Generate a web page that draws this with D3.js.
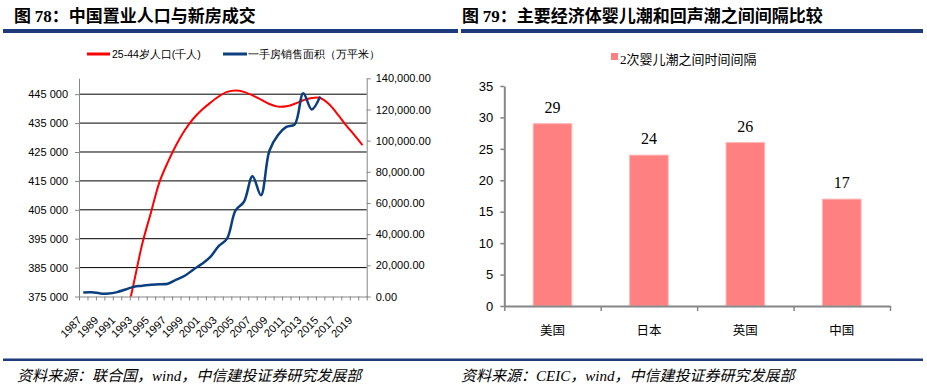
<!DOCTYPE html>
<html>
<head>
<meta charset="utf-8">
<script src="https://cdn.jsdelivr.net/npm/d3@7"></script>
<style>
  body { margin: 0; background: #fff; }
  svg { display: block; }
  text { font-family: "Liberation Sans", Arial, sans-serif; }
</style>
</head>
<body>
<svg id="chart" width="927" height="386"></svg>
<script>
// ---- data: left chart (图 78)
var years = d3.range(1987, 2021);
var labelYears = d3.range(1987, 2020, 2);
// 25-44岁人口(千人), from 1992 (earlier values fall below the axis)
var popYears = d3.range(1992, 2021);
var popValues = [366500, 380000, 393500, 404000, 414500, 421500, 427500, 432500, 436500, 439500,
                 442000, 444200, 445800, 446300, 445800, 444600, 443100, 441600, 440700, 440800,
                 441700, 442900, 443700, 443700, 441700, 438300, 434500, 431000, 427400];
// 一手房销售面积（万平米）
var salesYears = d3.range(1987, 2016);
var salesValues = [2500, 2700, 2000, 1900, 2800, 4500, 6300, 6900, 7600, 7800,
                   8200, 10800, 13300, 17200, 20800, 25200, 32300, 37100, 55300, 60800,
                   77200, 65000, 93500, 103500, 108800, 110500, 130400, 120000, 128300];
var leftTicks = [375000, 385000, 395000, 405000, 415000, 425000, 435000, 445000];
var rightTicks = [0, 20000, 40000, 60000, 80000, 100000, 120000, 140000];

// ---- data: right chart (图 79)
var countries = ["美国", "日本", "英国", "中国"];
var gaps = [29, 24, 26, 17];
var barTicks = [0, 5, 10, 15, 20, 25, 30, 35];

var svg = d3.select("#chart");
var navy = "#1f3a7a";
var axisGray = "#868686";

// title rules and footer rule
svg.append("rect").attr("x", 3).attr("y", 29).attr("width", 455).attr("height", 4).attr("fill", navy);
svg.append("rect").attr("x", 461).attr("y", 29).attr("width", 462).attr("height", 4).attr("fill", navy);
svg.append("rect").attr("x", 3).attr("y", 358.5).attr("width", 920).attr("height", 2.5).attr("fill", navy);

function title(x, num, rest) {
  var t = svg.append("text").attr("x", x).attr("y", 22)
      .style("font-size", "17px").style("font-weight", "bold")
      .style("font-family", "'Noto Sans CJK SC', sans-serif");
  t.append("tspan").text("图 ");
  t.append("tspan").style("font-family", "'Liberation Serif', serif").text(num);
  t.append("tspan").text("：" + rest);
}
title(14, "78", "中国置业人口与新房成交");
title(462, "79", "主要经济体婴儿潮和回声潮之间间隔比较");

function source(x, parts) {
  var t = svg.append("text").attr("x", x).attr("y", 381)
      .style("font-size", "15px").style("font-style", "italic")
      .style("font-family", "'Noto Sans CJK SC', sans-serif");
  parts.forEach(function (p) {
    var s = t.append("tspan").text(p.t);
    if (p.latin) s.style("font-family", "'Liberation Serif', serif");
  });
}
source(17, [{t: "资料来源："}, {t: "联合国，"}, {t: "wind", latin: true}, {t: "，中信建投证券研究发展部"}]);
source(461, [{t: "资料来源："}, {t: "CEIC", latin: true}, {t: "，"}, {t: "wind", latin: true}, {t: "，中信建投证券研究发展部"}]);

// =============== left chart ===============
var L = {left: 79, right: 366.7, top: 78.3, bottom: 296.5};
var x = d3.scaleBand().domain(years).range([L.left, L.right]);
var xEdge = d3.scaleLinear().domain([0, years.length]).range([L.left, L.right]);
var yL = d3.scaleLinear().domain([375000, 450500]).range([L.bottom, L.top]);
var yR = d3.scaleLinear().domain([0, 140000]).range([L.bottom, L.top]);
var cx = function (yr) { return x(yr) + x.bandwidth() / 2; };

var g = svg.append("g");

// gridlines
g.append("g").selectAll("line")
  .data(leftTicks.slice(1))
  .enter().append("line")
  .attr("x1", L.left).attr("x2", L.right)
  .attr("y1", function (d) { return yL(d); })
  .attr("y2", function (d) { return yL(d); })
  .attr("stroke", "#000").attr("stroke-width", 1);

var fmtSpace = function (d) { return d3.format(",")(d).replace(",", " "); };

var axL = g.append("g").attr("transform", "translate(" + L.left + ",0)")
  .call(d3.axisLeft(yL).tickValues(leftTicks).tickSize(4).tickSizeOuter(0).tickPadding(7).tickFormat(fmtSpace));
var axR = g.append("g").attr("transform", "translate(" + L.right + ",0)")
  .call(d3.axisRight(yR).tickValues(rightTicks).tickSize(4).tickSizeOuter(0).tickPadding(5).tickFormat(d3.format(",.2f")));
var axX = g.append("g").attr("transform", "translate(0," + L.bottom + ")")
  .call(d3.axisBottom(xEdge).tickValues(d3.range(0, years.length + 1)).tickSize(4).tickSizeOuter(0).tickFormat(""));

[axL, axR, axX].forEach(function (a) {
  a.select(".domain").attr("stroke", axisGray);
  a.selectAll(".tick line").attr("stroke", axisGray);
  a.selectAll("text").style("font-size", "11px").attr("fill", "#000")
    .style("font-family", "'Liberation Sans', Arial, sans-serif");
});

// x labels, rotated
g.append("g").selectAll("text")
  .data(labelYears)
  .enter().append("text")
  .attr("transform", function (d) { return "translate(" + (cx(d) - 1) + ",321) rotate(-45)"; })
  .attr("text-anchor", "end")
  .style("font-size", "11px")
  .text(function (d) { return d; });

// clip
svg.append("clipPath").attr("id", "plotClip")
  .append("rect").attr("x", L.left).attr("y", L.top - 5)
  .attr("width", L.right - L.left).attr("height", L.bottom - L.top + 5);

var popLine = d3.line()
  .x(function (d, i) { return cx(popYears[i]); })
  .y(function (d) { return yL(d); })
  .curve(d3.curveCatmullRom);
var salesLine = d3.line()
  .x(function (d, i) { return cx(salesYears[i]); })
  .y(function (d) { return yR(d); })
  .curve(d3.curveCatmullRom);

g.append("path").attr("clip-path", "url(#plotClip)")
  .attr("d", popLine(popValues))
  .attr("fill", "none").attr("stroke", "#ff0000").attr("stroke-width", 2);
g.append("path")
  .attr("d", salesLine(salesValues))
  .attr("fill", "none").attr("stroke", "#0b3f7f").attr("stroke-width", 2.5);

// legend
var leg = g.append("g").style("font-size", "10.5px")
  .style("font-family", "'Noto Sans CJK SC', sans-serif");
leg.append("line").attr("x1", 87).attr("x2", 110).attr("y1", 54).attr("y2", 54)
  .attr("stroke", "#ff0000").attr("stroke-width", 3);
leg.append("text").attr("x", 112).attr("y", 58).text("25-44岁人口(千人)");
leg.append("line").attr("x1", 223).attr("x2", 247).attr("y1", 54).attr("y2", 54)
  .attr("stroke", "#0b3f7f").attr("stroke-width", 3);
leg.append("text").attr("x", 248).attr("y", 58).text("一手房销售面积（万平米）");

// =============== right chart ===============
var R = {left: 504.3, right: 890, top: 86, bottom: 306};
var xb = d3.scaleBand().domain(countries).range([R.left, R.right]).paddingInner(0.6).paddingOuter(0.3);
var xbEdge = d3.scaleLinear().domain([0, countries.length]).range([R.left, R.right]);
var yb = d3.scaleLinear().domain([0, 35]).range([R.bottom, R.top]);

var h = svg.append("g");

h.selectAll("rect.bar")
  .data(gaps)
  .enter().append("rect")
  .attr("class", "bar")
  .attr("x", function (d, i) { return xb(countries[i]); })
  .attr("width", xb.bandwidth())
  .attr("y", function (d) { return yb(d); })
  .attr("height", function (d) { return yb(0) - yb(d); })
  .attr("fill", "#ff8080").attr("stroke", "#ffb3b3").attr("stroke-width", 1);

h.selectAll("text.val")
  .data(gaps)
  .enter().append("text")
  .attr("class", "val")
  .attr("x", function (d, i) { return xb(countries[i]) + xb.bandwidth() / 2; })
  .attr("y", function (d) { return yb(d) - 11; })
  .attr("text-anchor", "middle")
  .style("font-family", "'Liberation Serif', serif").style("font-size", "16px")
  .text(function (d) { return d; });

var ayB = h.append("g").attr("transform", "translate(" + R.left + ",0)")
  .call(d3.axisLeft(yb).tickValues(barTicks).tickSize(4).tickSizeOuter(0).tickPadding(7));
var axB = h.append("g").attr("transform", "translate(0," + R.bottom + ")")
  .call(d3.axisBottom(xbEdge).tickValues(d3.range(0, countries.length + 1)).tickSize(5).tickSizeOuter(0).tickFormat(""));
[ayB, axB].forEach(function (a) {
  a.select(".domain").attr("stroke", axisGray).attr("stroke-width", 2);
  a.selectAll(".tick line").attr("stroke", axisGray).attr("stroke-width", 1.5);
  a.selectAll("text").style("font-size", "13px").attr("fill", "#000")
    .style("font-family", "'Liberation Sans', Arial, sans-serif");
});

h.selectAll("text.cat")
  .data(countries)
  .enter().append("text")
  .attr("class", "cat")
  .attr("x", function (d) { return xb(d) + xb.bandwidth() / 2; })
  .attr("y", 335)
  .attr("text-anchor", "middle")
  .style("font-family", "'Noto Sans CJK SC', sans-serif").style("font-size", "12.5px")
  .text(function (d) { return d; });

// legend
h.append("rect").attr("x", 611).attr("y", 53).attr("width", 7).attr("height", 7).attr("fill", "#ff8080");
h.append("text").attr("x", 620).attr("y", 64)
  .style("font-family", "'Liberation Serif', 'Noto Sans CJK SC', serif").style("font-size", "13px")
  .text("2次婴儿潮之间时间间隔");
</script>
</body>
</html>
